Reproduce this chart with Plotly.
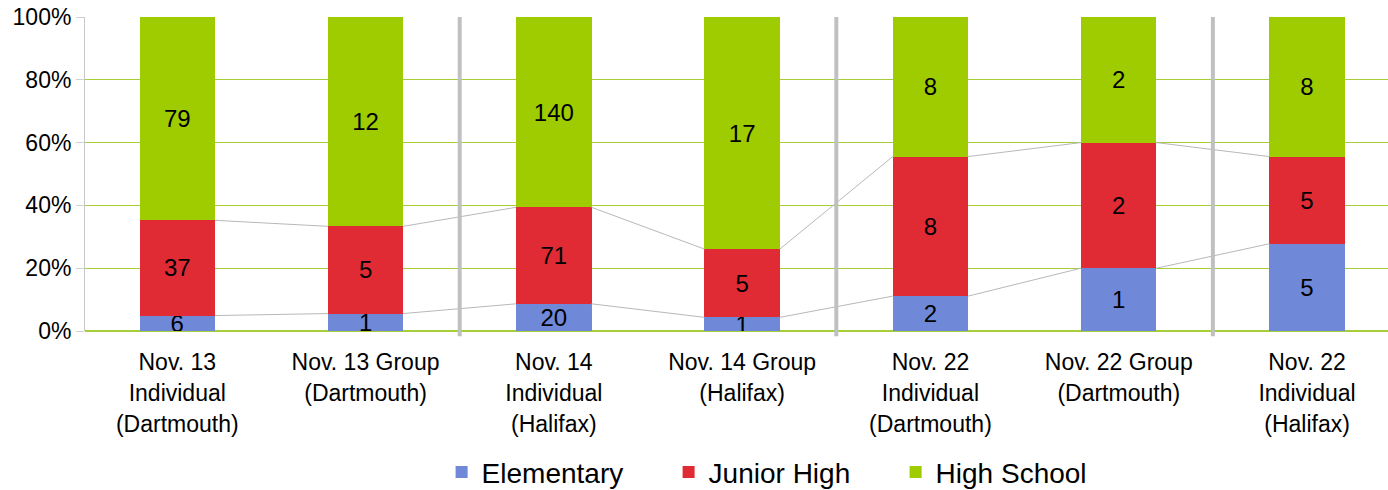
import plotly.graph_objects as go

categories = [
    "Nov. 13|Individual|(Dartmouth)",
    "Nov. 13 Group|(Dartmouth)",
    "Nov. 14|Individual|(Halifax)",
    "Nov. 14 Group|(Halifax)",
    "Nov. 22|Individual|(Dartmouth)",
    "Nov. 22 Group|(Dartmouth)",
    "Nov. 22|Individual|(Halifax)",
]
elementary = [6, 1, 20, 1, 2, 1, 5]
junior_high = [37, 5, 71, 5, 8, 2, 5]
high_school = [79, 12, 140, 17, 8, 2, 8]
separators_after = [1, 3, 5]  # gray divider after these category indices

FONT = "Liberation Sans, Arial, sans-serif"
BAR_W = 0.4
series = [
    ("Elementary", elementary, "#6F88D8"),
    ("Junior High", junior_high, "#E02B35"),
    ("High School", high_school, "#9ECC00"),
]

totals = [a + b + c for a, b, c in zip(elementary, junior_high, high_school)]
xs = list(range(len(categories)))
# wider line spacing than plotly's default: big base font, smaller span font
ticktext = ["<br>".join(f"<span style='font-size:23px'>{p}</span>" for p in c.split("|"))
            for c in categories]

fig = go.Figure()
for name, vals, col in series:
    fig.add_bar(
        x=xs, y=vals, name=name, marker_color=col, marker_line_width=0,
        width=BAR_W, text=[str(v) for v in vals], textposition="inside",
        insidetextanchor="middle", textangle=0,
        textfont=dict(family=FONT, size=24, color="black"),
    )

# series lines joining cumulative tops of neighbouring bars
for level in (elementary, [e + j for e, j in zip(elementary, junior_high)]):
    pct = [100 * v / t for v, t in zip(level, totals)]
    for i in range(len(xs) - 1):
        fig.add_trace(go.Scatter(
            x=[xs[i] + BAR_W / 2, xs[i + 1] - BAR_W / 2], y=[pct[i], pct[i + 1]],
            mode="lines", line=dict(color="#B8B8B8", width=1),
            showlegend=False, hoverinfo="skip",
        ))

for s in separators_after:
    fig.add_shape(type="line", xref="x", yref="paper", x0=s + 0.5, x1=s + 0.5,
                  y0=-0.017, y1=1, line=dict(color="#C0C0C0", width=4), layer="above")

fig.update_layout(
    barmode="stack", barnorm="percent",
    width=1388, height=490,
    margin=dict(l=85, r=0, t=17, b=159, autoexpand=False),
    paper_bgcolor="white", plot_bgcolor="white",
    font=dict(family=FONT, size=19, color="black"),
    uniformtext=dict(minsize=24, mode="show"),
    legend=dict(orientation="h", x=0.535, xanchor="center", y=-0.45, yanchor="middle",
                font=dict(size=28), traceorder="normal", entrywidth=182),
    xaxis=dict(range=[-0.49, 6.43], tickvals=xs, ticktext=ticktext, showgrid=False,
               showline=False, ticks="", tickfont=dict(size=24), zeroline=False,
               ticklabelstandoff=14, automargin=False),
    yaxis=dict(range=[0, 100], dtick=20, ticksuffix="%", showgrid=True,
               gridcolor="#A6CE39", gridwidth=1, zeroline=True, zerolinecolor="#A6CE39",
               zerolinewidth=2, showline=True, linecolor="#C8C8C8", linewidth=1,
               ticks="outside", ticklen=8, tickcolor="#D0D0D0",
               tickfont=dict(size=23), ticklabeloverflow="allow", automargin=False),
    showlegend=True,
)

# drop the default page margin so the figure sits at the window's corner
fig.write_html("out.html", config={"displayModeBar": False},
               post_script="document.body.style.margin='0';")
